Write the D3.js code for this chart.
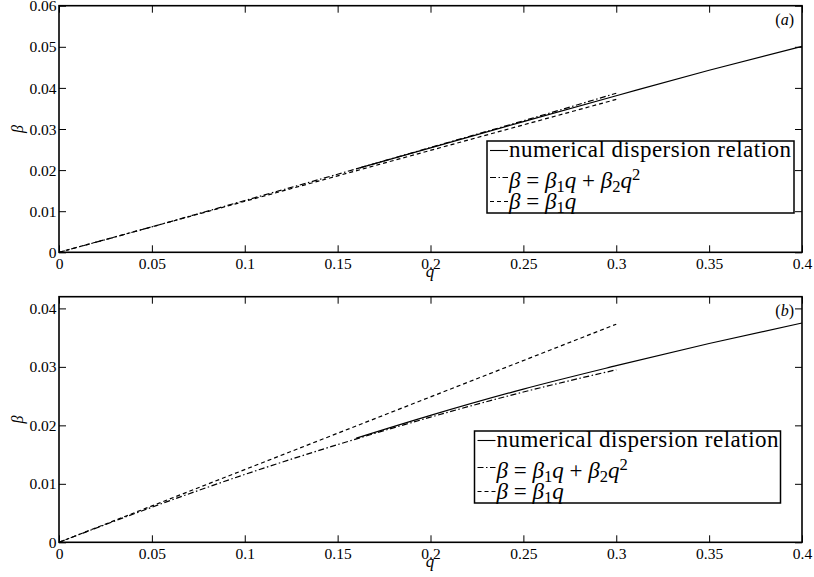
<!DOCTYPE html>
<html><head><meta charset="utf-8">
<script src="https://cdn.jsdelivr.net/npm/d3@7"></script>
<style>body{margin:0;background:#fff}</style>
</head><body>
<svg id="chart" width="814" height="577"></svg>
<script>
// tick values and labels
const qTicks = [0, 0.05, 0.1, 0.15, 0.2, 0.25, 0.3, 0.35, 0.4];
const qTickLabels = ["0", "0.05", "0.1", "0.15", "0.2", "0.25", "0.3", "0.35", "0.4"];
const betaTicksA = [0, 0.01, 0.02, 0.03, 0.04, 0.05, 0.06];
const betaTickLabelsA = ["0", "0.01", "0.02", "0.03", "0.04", "0.05", "0.06"];
const betaTicksB = [0, 0.01, 0.02, 0.03, 0.04];
const betaTickLabelsB = ["0", "0.01", "0.02", "0.03", "0.04"];

// panel (a): numerical dispersion relation and its approximations
const qNumA = [0.16, 0.2, 0.25, 0.3, 0.35, 0.4];
const betaNumA = [0.0203, 0.0254, 0.0318, 0.0381, 0.0443, 0.0501];
const qQuadA = [0, 0.05, 0.1, 0.15, 0.2, 0.25, 0.3];
const betaQuadA = [0, 0.0062, 0.0126, 0.0190, 0.0255, 0.0320, 0.0387];
const qLinA = [0, 0.3];
const betaLinA = [0, 0.0372];

// panel (b)
const qNumB = [0.16, 0.2, 0.25, 0.3, 0.35, 0.4];
const betaNumB = [0.0178, 0.0217, 0.0262, 0.0302, 0.0340, 0.0375];
const qQuadB = [0, 0.05, 0.1, 0.15, 0.2, 0.25, 0.3];
const betaQuadB = [0, 0.0060, 0.0116, 0.0167, 0.0214, 0.0257, 0.0295];
const qLinB = [0, 0.3];
const betaLinB = [0, 0.0373];

const legendLabels = ["numerical dispersion relation", "β = β1q + β2q2", "β = β1q"];

const svg = d3.select("#chart");
svg.append("rect").attr("width", 814).attr("height", 577).attr("fill", "#fff");

const FONT = '"Liberation Serif"';
const left = 59, right = 802;
const x = d3.scaleLinear().domain([0, 0.4]).range([left, right]);

const styles = {
  num: {dash: null},
  quad: {dash: "6,2.5,1.5,2.5"},
  lin: {dash: "4,3"}
};

// legend row layout: sample line offsets and text baselines from the box top
const legendSampleY = [9.5, 36.5, 60.5];
const legendBaseY = [16, 46.5, 67.5];

const panels = [
  {top: 5.7, bottom: 252.3, yMax: 0.06, ticks: betaTicksA, labels: betaTickLabelsA, tag: "a",
   series: [[qNumA, betaNumA, "num"], [qQuadA, betaQuadA, "quad"], [qLinA, betaLinA, "lin"]],
   legend: {x: 487, y: 141, w: 307, h: 72}},
  {top: 296.7, bottom: 542.3, yMax: 0.042, ticks: betaTicksB, labels: betaTickLabelsB, tag: "b",
   series: [[qNumB, betaNumB, "num"], [qQuadB, betaQuadB, "quad"], [qLinB, betaLinB, "lin"]],
   legend: {x: 474.5, y: 431, w: 306, h: 72}}
];

// writes an expression with italic symbols, subscripts and superscripts
function mathText(sel, parts) {
  parts.forEach(p => {
    const t = sel.append("tspan").text(p.t);
    if (p.i) t.style("font-style", "italic");
    if (p.sub) { t.attr("dy", "0.25em").attr("font-size", "0.72em"); }
    if (p.sup) { t.attr("dy", "-0.45em").attr("font-size", "0.72em"); }
    if (p.back) t.attr("dy", p.back);
  });
}

panels.forEach(P => {
  const y = d3.scaleLinear().domain([0, P.yMax]).range([P.bottom, P.top]);
  const g = svg.append("g");

  // bottom axis with labels
  const ax = g.append("g").attr("transform", `translate(0,${P.bottom})`)
    .call(d3.axisBottom(x).tickValues(qTicks).tickSize(-7).tickSizeOuter(0)
      .tickFormat((d, i) => qTickLabels[i]));
  ax.selectAll("text").attr("y", 17).attr("dy", null)
    .style("font-family", FONT).attr("font-size", 15.5).attr("fill", "#000");
  // left axis with labels
  const ay = g.append("g").attr("transform", `translate(${left},0)`)
    .call(d3.axisLeft(y).tickValues(P.ticks).tickSize(-7).tickSizeOuter(0)
      .tickFormat((d, i) => P.labels[i]));
  ay.selectAll("text").attr("x", -2.5).attr("dy", "0.33em")
    .style("font-family", FONT).attr("font-size", 15.5).attr("fill", "#000");
  // mirrored ticks on top and right
  g.append("g").attr("transform", `translate(0,${P.top})`)
    .call(d3.axisTop(x).tickValues(qTicks).tickSize(-7).tickSizeOuter(0).tickFormat(""));
  g.append("g").attr("transform", `translate(${right},0)`)
    .call(d3.axisRight(y).tickValues(P.ticks).tickSize(-7).tickSizeOuter(0).tickFormat(""));
  g.selectAll(".domain").remove();
  g.selectAll(".tick line").attr("stroke", "#000").attr("stroke-width", 1);

  // curves
  const line = d3.line().x(d => x(d[0])).y(d => y(d[1])).curve(d3.curveMonotoneX);
  P.series.forEach(([qs, bs, kind]) => {
    const pts = qs.map((q, i) => [q, bs[i]]);
    g.append("path").attr("d", line(pts)).attr("fill", "none")
      .attr("stroke", "#000").attr("stroke-width", 1.2)
      .attr("stroke-dasharray", styles[kind].dash);
  });

  // axes frame
  g.append("rect").attr("x", left).attr("y", P.top)
    .attr("width", right - left).attr("height", P.bottom - P.top)
    .attr("fill", "none").attr("stroke", "#000").attr("stroke-width", 1.6);

  // panel tag
  const tag = g.append("text").attr("x", right - 8).attr("y", P.top + 19)
    .attr("text-anchor", "end").attr("font-size", 16).style("font-family", FONT);
  mathText(tag, [{t: "("}, {t: P.tag, i: true}, {t: ")"}]);

  // axis labels
  g.append("text").attr("x", 430).attr("y", P.bottom + 25)
    .attr("text-anchor", "middle").attr("font-size", 17).style("font-family", FONT)
    .style("font-style", "italic").text("q");
  g.append("text").attr("transform", `translate(23,${(P.top + P.bottom) / 2}) rotate(-90)`)
    .attr("text-anchor", "middle").attr("font-size", 16).style("font-family", FONT)
    .style("font-style", "italic").text("β");

  // legend
  const L = P.legend;
  g.append("rect").attr("x", L.x).attr("y", L.y).attr("width", L.w).attr("height", L.h)
    .attr("fill", "#fff").attr("stroke", "#000").attr("stroke-width", 1.5);
  ["num", "quad", "lin"].forEach((kind, i) => {
    const ry = L.y + legendSampleY[i];
    g.append("line").attr("x1", L.x + 3).attr("x2", L.x + 21).attr("y1", ry).attr("y2", ry)
      .attr("stroke", "#000").attr("stroke-width", 1.1).attr("stroke-dasharray", styles[kind].dash);
    const t = g.append("text").attr("x", L.x + 22).attr("y", L.y + legendBaseY[i])
      .attr("font-size", 23).style("font-family", FONT);
    if (i === 0) {
      t.text(legendLabels[0]).attr("textLength", 282).attr("lengthAdjust", "spacing");
    } else if (i === 1) {
      mathText(t, [{t: "β", i: true}, {t: " = "}, {t: "β", i: true}, {t: "1", sub: true},
        {t: "q", i: true, back: "-0.18em"}, {t: " + "}, {t: "β", i: true}, {t: "2", sub: true},
        {t: "q", i: true, back: "-0.18em"}, {t: "2", sup: true}]);
    } else {
      mathText(t, [{t: "β", i: true}, {t: " = "}, {t: "β", i: true}, {t: "1", sub: true},
        {t: "q", i: true, back: "-0.18em"}]);
    }
  });
});
</script>
</body></html>
